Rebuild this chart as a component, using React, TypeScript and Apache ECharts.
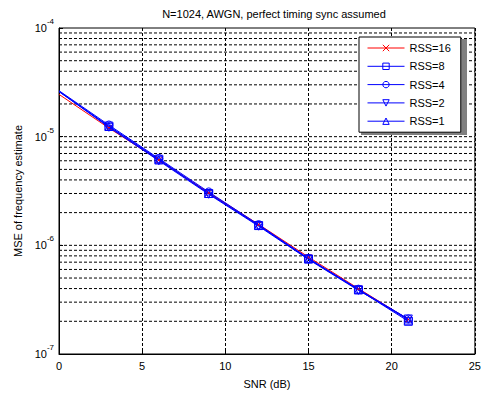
import React, { useEffect, useRef } from "react";
import * as echarts from "echarts";

const snr = [0, 3, 6, 9, 12, 15, 18, 21];
const rss16 = [2.45e-5, 1.2e-5, 6.1e-6, 3.05e-6, 1.56e-6, 7.8e-7, 4.0e-7, 2.08e-7];
const rss8 = [2.6e-5, 1.25e-5, 6.2e-6, 3.0e-6, 1.52e-6, 7.5e-7, 3.9e-7, 2.0e-7];
const rss4 = [2.65e-5, 1.28e-5, 6.3e-6, 3.1e-6, 1.55e-6, 7.6e-7, 3.95e-7, 2.1e-7];
const rss2 = [2.6e-5, 1.22e-5, 6.0e-6, 2.95e-6, 1.5e-6, 7.4e-7, 3.85e-7, 2.1e-7];
const rss1 = [2.62e-5, 1.24e-5, 6.1e-6, 3.0e-6, 1.53e-6, 7.5e-7, 3.9e-7, 2.05e-7];
const seriesNames = ["RSS=16", "RSS=8", "RSS=4", "RSS=2", "RSS=1"];
const decades = [1e-7, 1e-6, 1e-5];
const minorMultiples = [1, 2, 3, 4, 5, 6, 7, 8, 9];
const xRange = [0, 25];

const FONT = "Liberation Sans, Arial, sans-serif";

export default function App() {
  const ref = useRef<HTMLDivElement>(null);
  useEffect(() => {
    if (!ref.current) return;
    const chart = echarts.init(ref.current, null, { renderer: "svg" });
    const gridData: any[] = [];
    decades.forEach((d) => minorMultiples.forEach((m) => {
      const v = d * m;
      if (v > 1e-7 * 1.01) {
        gridData.push([xRange[0], v], [xRange[1], v], [xRange[1], "-"]);
      }
    }));
    const mk = (vals: number[]) =>
      vals.map((v, i) => ({
        value: [snr[i], v],
        symbol: i === 0 ? "none" : undefined,
      }));
    const mkSeries = (
      name: string,
      vals: number[],
      color: string,
      symbol: string,
      size: number
    ) => ({
      name,
      type: "line",
      data: mk(vals),
      symbol,
      symbolSize: size,
      showAllSymbol: true,
      lineStyle: { color, width: 1 },
      itemStyle: { color: "transparent", borderColor: color, borderWidth: 1 },
      emphasis: { disabled: true },
      z: 3,
    });
    const option: any = {
      animation: false,
      backgroundColor: "#fff",
      title: {
        text: "N=1024, AWGN, perfect timing sync assumed",
        left: 269,
        textAlign: "center",
        top: 3,
        textStyle: { fontFamily: FONT, fontSize: 11, fontWeight: "normal", color: "#000" },
      },
      grid: {
        left: 59,
        right: 5,
        top: 28,
        bottom: 36,
        show: true,
        borderColor: "#000",
        borderWidth: 1,
        backgroundColor: "#fff",
      },
      graphic: [
        {
          type: "rect",
          shape: { x: 361, y: 39, width: 106, height: 96 },
          style: { fill: "#808080" },
          z: 8,
          silent: true,
        },
      ],
      legend: {
        data: seriesNames,
        orient: "vertical",
        left: 359,
        top: 37,
        padding: [5, 10, 5, 8],
        itemWidth: 37,
        itemHeight: 8,
        itemGap: 6.3,
        backgroundColor: "#fff",
        borderColor: "#000",
        borderWidth: 1,
        lineStyle: { width: 1 },
        itemStyle: { borderWidth: 1 },
        textStyle: { fontFamily: FONT, fontSize: 11, color: "#000", lineHeight: 12 },
        z: 10,
      },
      xAxis: {
        type: "value",
        min: 0,
        max: 25,
        interval: 5,
        name: "SNR (dB)",
        nameLocation: "middle",
        nameGap: 24,
        nameTextStyle: { fontFamily: FONT, fontSize: 11, color: "#000" },
        axisLine: { show: true, lineStyle: { color: "#000", width: 1 } },
        axisTick: { show: true, inside: true, length: 4, lineStyle: { color: "#000" } },
        axisLabel: { fontFamily: FONT, fontSize: 11, color: "#000", margin: 6 },
        splitLine: { show: true, lineStyle: { color: "#000", type: [3, 2], width: 1 } },
      },
      yAxis: {
        type: "log",
        logBase: 10,
        min: 1e-7,
        max: 1e-4,
        name: "MSE of frequency estimate",
        nameLocation: "middle",
        nameGap: 35,
        nameTextStyle: { fontFamily: FONT, fontSize: 11, color: "#000" },
        axisLine: { show: true, lineStyle: { color: "#000", width: 1 } },
        axisTick: { show: true, inside: true, length: 4, lineStyle: { color: "#000" } },
        splitLine: { show: false },
        axisLabel: {
          margin: 5,
          formatter: (v: number) => `{b|10}{s|${Math.round(Math.log10(v))}}`,
          rich: {
            b: { fontFamily: FONT, fontSize: 11, color: "#000", lineHeight: 12 },
            s: { fontFamily: FONT, fontSize: 8, color: "#000", lineHeight: 8, padding: [0, 0, 13, 0] },
          },
        },
      },
      series: [
        {
          name: "grid",
          type: "line",
          data: gridData,
          symbol: "none",
          silent: true,
          connectNulls: false,
          lineStyle: { color: "#000", type: [3, 2], width: 1 },
          emphasis: { disabled: true },
          z: 1,
        },
        mkSeries("RSS=16", rss16, "#ff0000", "path://M0,0L10,10M10,0L0,10", 6),
        mkSeries("RSS=8", rss8, "#0000ff", "rect", 8),
        mkSeries("RSS=4", rss4, "#0000ff", "circle", 8),
        mkSeries("RSS=2", rss2, "#0000ff", "path://M0,0L10,0L5,10Z", 8),
        mkSeries("RSS=1", rss1, "#0000ff", "triangle", 8),
      ],
    };
    chart.setOption(option);
    return () => chart.dispose();
  }, []);
  return (
    <div
      ref={ref}
      style={{ position: "fixed", left: 0, top: 0, width: 484, height: 394 }}
    />
  );
}
